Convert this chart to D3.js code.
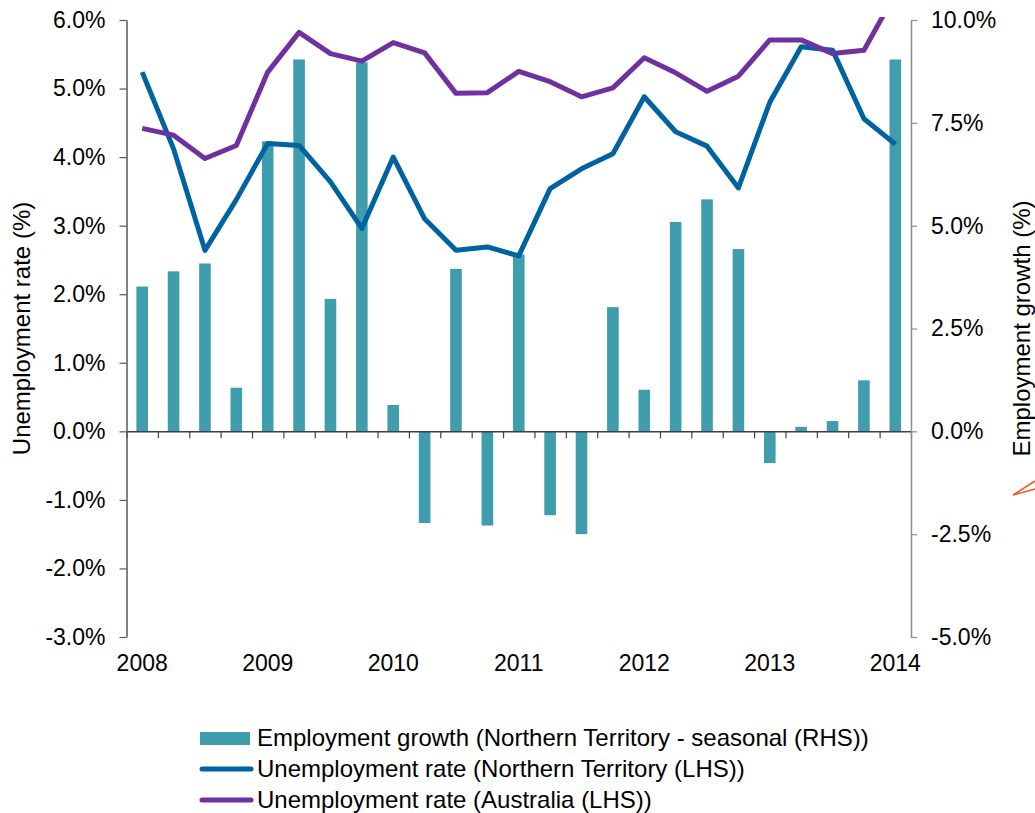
<!DOCTYPE html>
<html>
<head>
<meta charset="utf-8">
<script src="https://cdn.jsdelivr.net/npm/d3@7"></script>
<style>
	body { margin: 0; background: #fff; }
	text { font-family: "Liberation Sans", Arial, sans-serif; fill: #000; }
</style>
</head>
<body>
<div id="chart"></div>
<script>
// Quarters from 2008 to 2014
var quarters = ["2008Q1","2008Q2","2008Q3","2008Q4","2009Q1","2009Q2","2009Q3","2009Q4",
	"2010Q1","2010Q2","2010Q3","2010Q4","2011Q1","2011Q2","2011Q3","2011Q4",
	"2012Q1","2012Q2","2012Q3","2012Q4","2013Q1","2013Q2","2013Q3","2013Q4","2014Q1"];

// Employment growth, Northern Territory - seasonal (RHS, %)
var empGrowthNT = [3.52, 3.89, 4.08, 1.06, 7.05, 9.04, 3.22, 8.97, 0.64, -2.23, 3.95, -2.29,
	4.30, -2.04, -2.50, 3.02, 1.01, 5.09, 5.64, 4.43, -0.77, 0.11, 0.25, 1.24, 9.04];

// Unemployment rate, Northern Territory (LHS, %)
var unempNT = [5.24, 4.12, 2.64, 3.38, 4.20, 4.17, 3.64, 2.96, 4.00, 3.10, 2.64, 2.69,
	2.56, 3.54, 3.83, 4.05, 4.88, 4.37, 4.16, 3.55, 4.80, 5.61, 5.56, 4.56, 4.19];

// Unemployment rate, Australia (LHS, %)
var unempAus = [4.42, 4.32, 3.98, 4.17, 5.24, 5.82, 5.51, 5.40, 5.67, 5.52, 4.93, 4.94,
	5.25, 5.10, 4.88, 5.01, 5.45, 5.23, 4.96, 5.18, 5.71, 5.71, 5.51, 5.56, 6.38];

var leftTicks = [-3, -2, -1, 0, 1, 2, 3, 4, 5, 6];
var rightTicks = [-5, -2.5, 0, 2.5, 5, 7.5, 10];
var yearLabels = ["2008", "2009", "2010", "2011", "2012", "2013", "2014"];

var legendItems = [
	{ label: "Employment growth (Northern Territory - seasonal (RHS))", type: "bar", color: "#409dae" },
	{ label: "Unemployment rate (Northern Territory (LHS))", type: "line", color: "#0063a1" },
	{ label: "Unemployment rate (Australia (LHS))", type: "line", color: "#7030a0" }
];

var W = 1035, H = 813;
var plot = { left: 126.5, right: 911, top: 20, bottom: 637 };

var svg = d3.select("#chart").append("svg")
	.attr("width", W)
	.attr("height", H);

// Scales:
var xScale = d3.scaleBand()
	.domain(quarters)
	.range([plot.left, plot.right])
	.padding(0);

var xEdge = d3.scaleLinear()
	.domain([0, quarters.length])
	.range([plot.left, plot.right]);

var yLeft = d3.scaleLinear()
	.domain([-3, 6])
	.range([plot.bottom, plot.top]);

var yRight = d3.scaleLinear()
	.domain([-5, 10])
	.range([plot.bottom, plot.top]);

// Plain hyphen for negatives, as in the original
var pctFmt = function(d){ return d.toFixed(1) + "%"; };

// Bars (right axis):
var barW = xScale.bandwidth() * 0.37;
svg.append("g")
	.selectAll("rect")
	.data(empGrowthNT)
	.enter()
	.append("rect")
	.attr("x", function(d, i){ return xScale(quarters[i]) + xScale.bandwidth() / 2 - barW / 2; })
	.attr("y", function(d){ return yRight(Math.max(0, d)); })
	.attr("width", barW)
	.attr("height", function(d){ return Math.abs(yRight(d) - yRight(0)); })
	.attr("fill", "#409dae");

// X axis along zero, ticks at quarter boundaries:
var xAxisGroup = svg.append("g")
	.attr("transform", "translate(0," + yLeft(0) + ")")
	.call(d3.axisBottom(xEdge)
		.tickValues(d3.range(0, quarters.length + 1))
		.tickSize(7)
		.tickSizeOuter(0)
		.tickFormat(""));
xAxisGroup.select(".domain").attr("stroke", "#404040").attr("stroke-width", 1.5);
xAxisGroup.selectAll(".tick line").attr("stroke", "#404040").attr("stroke-width", 1.2);

// Year labels at the bottom:
var yearAxis = svg.append("g")
	.attr("transform", "translate(0," + (plot.bottom + 10) + ")")
	.call(d3.axisBottom(xScale)
		.tickValues(quarters.filter(function(d, i){ return i % 4 == 0; }))
		.tickSize(0)
		.tickPadding(8)
		.tickFormat(function(d, i){ return yearLabels[i]; }));
yearAxis.select(".domain").remove();
yearAxis.selectAll("text").attr("font-size", "23px").attr("font-family", null);

// Left axis:
var leftAxis = svg.append("g")
	.attr("transform", "translate(" + plot.left + ",0)")
	.call(d3.axisLeft(yLeft)
		.tickValues(leftTicks)
		.tickSize(7)
		.tickSizeOuter(0)
		.tickPadding(14)
		.tickFormat(pctFmt));
leftAxis.select(".domain").attr("stroke", "#595959").attr("stroke-width", 1.5);
leftAxis.selectAll(".tick line").attr("stroke", "#595959").attr("stroke-width", 1.2);
leftAxis.selectAll("text").attr("font-size", "23px").attr("font-family", null);

// Right axis:
var rightAxis = svg.append("g")
	.attr("transform", "translate(" + plot.right + ",0)")
	.call(d3.axisRight(yRight)
		.tickValues(rightTicks)
		.tickSize(6)
		.tickSizeOuter(0)
		.tickPadding(14)
		.tickFormat(pctFmt));
rightAxis.select(".domain").attr("stroke", "#8c8c8c").attr("stroke-width", 1.5);
rightAxis.selectAll(".tick line").attr("stroke", "#8c8c8c").attr("stroke-width", 1.2);
rightAxis.selectAll("text").attr("font-size", "23px").attr("font-family", null);

// Lines (left axis), clipped to plot area:
svg.append("clipPath")
	.attr("id", "plotClip")
	.append("rect")
	.attr("x", plot.left)
	.attr("y", plot.top - 3)
	.attr("width", plot.right - plot.left)
	.attr("height", plot.bottom - plot.top + 3);

var lineGen = d3.line()
	.x(function(d, i){ return xScale(quarters[i]) + xScale.bandwidth() / 2; })
	.y(function(d){ return yLeft(d); });

svg.append("path")
	.datum(unempNT)
	.attr("clip-path", "url(#plotClip)")
	.attr("fill", "none")
	.attr("stroke", "#0063a1")
	.attr("stroke-width", 5)
	.attr("stroke-linejoin", "round")
	.attr("d", lineGen);

svg.append("path")
	.datum(unempAus)
	.attr("clip-path", "url(#plotClip)")
	.attr("fill", "none")
	.attr("stroke", "#7030a0")
	.attr("stroke-width", 5)
	.attr("stroke-linejoin", "round")
	.attr("d", lineGen);

// Axis titles:
svg.append("text")
	.attr("transform", "translate(30," + ((plot.top + plot.bottom) / 2) + ") rotate(-90)")
	.attr("text-anchor", "middle")
	.attr("font-size", "24px")
	.text("Unemployment rate (%)");

svg.append("text")
	.attr("transform", "translate(1030," + ((plot.top + plot.bottom) / 2) + ") rotate(-90)")
	.attr("text-anchor", "middle")
	.attr("font-size", "24px")
	.text("Employment growth (%)");

// Stray orange mark at the right edge:
svg.append("path")
	.attr("d", "M1035,481 L1013,495 L1035,489")
	.attr("fill", "none")
	.attr("stroke", "#f0581e")
	.attr("stroke-width", 1.5);

// Legend:
var legend = svg.append("g")
	.selectAll("g")
	.data(legendItems)
	.enter()
	.append("g")
	.attr("transform", function(d, i){ return "translate(200," + (738 + i * 31) + ")"; });

legend.filter(function(d){ return d.type == "bar"; })
	.append("rect")
	.attr("x", 0)
	.attr("y", -6)
	.attr("width", 50)
	.attr("height", 13)
	.attr("fill", function(d){ return d.color; });

legend.filter(function(d){ return d.type == "line"; })
	.append("line")
	.attr("x1", 2)
	.attr("x2", 51)
	.attr("y1", 0)
	.attr("y2", 0)
	.attr("stroke", function(d){ return d.color; })
	.attr("stroke-width", 5)
	.attr("stroke-linecap", "round");

legend.append("text")
	.attr("x", 57)
	.attr("y", 0)
	.attr("dy", "0.35em")
	.attr("font-size", "24px")
	.text(function(d){ return d.label; });
</script>
</body>
</html>
